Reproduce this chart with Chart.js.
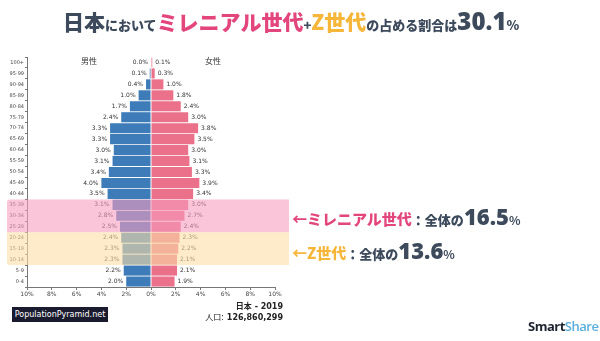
<!DOCTYPE html>
<html>
<head>
<meta charset="utf-8">
<script src="https://cdn.jsdelivr.net/npm/chart.js@4/dist/chart.umd.min.js"></script>
<style>
  body { margin: 0; background: #fff; }
  #wrap { position: relative; width: 600px; height: 341px; overflow: hidden; font-family: "Noto Sans CJK JP", "Noto Sans", sans-serif; }
  #chart { position: absolute; left: 0; top: 0; }
  .abs { position: absolute; white-space: nowrap; }
  #title { left: 63px; top: 6px; font-weight: 900; color: #3d4a5c; font-size: 13px; line-height: 30px; }
  #title .big { font-size: 21px; }
  #title .pink { color: #e2467c; }
  #title .yel { color: #f6b63a; }
  #title .num { font-size: 24px; font-family: "Noto Sans", sans-serif; font-weight: 900; }
  .note { left: 292px; font-weight: 900; color: #3d4a5c; font-size: 13px; line-height: 26px; }
  .note .lead { font-size: 15px; }
  .note .num { font-size: 22px; font-family: "Noto Sans", sans-serif; }
  .note .pct { font-size: 12px; font-weight: 700; }
  .sex { font-size: 8px; color: #333; font-family: "Noto Sans CJK JP", sans-serif; }
  #pp { left: 12px; top: 307px; width: 96px; height: 15px; background: #1b1b2f; color: #fff; font: 8px "DejaVu Sans", sans-serif; line-height: 15px; text-align: center; }
  .meta { right: 317px; font: bold 8px "DejaVu Sans", "Noto Sans CJK JP", sans-serif; color: #222; text-align: right; line-height: 10px; }
  #ss { left: 528px; top: 317px; font: bold 13px "Open Sans", sans-serif; letter-spacing: -0.5px; color: #1e2330; }
  #ss span { color: #5aaedc; font-weight: 600; }
</style>
</head>
<body>
<div id="wrap">
  <canvas id="chart" width="600" height="341"></canvas>
  <div id="title" class="abs"><span class="big">日本</span>において<span class="big pink">ミレニアル世代</span>+<span class="big yel">Z世代</span>の占める割合は<span class="num">30.1</span>%</div>
  <div class="abs note" style="top:203px"><span class="lead" style="color:#e2467c">←ミレニアル世代</span>：全体の<span class="num">16.5</span><span class="pct">%</span></div>
  <div class="abs note" style="top:237px"><span class="lead" style="color:#f6b63a">←Z世代</span>：全体の<span class="num">13.6</span><span class="pct">%</span></div>
  <div class="abs sex" style="left:81px; top:55px">男性</div>
  <div class="abs sex" style="left:205px; top:55px">女性</div>
  <div id="pp" class="abs">PopulationPyramid.net</div>
  <div class="abs meta" style="top:302px">日本 - 2019</div>
  <div class="abs meta" style="top:313px"><span style="font-weight:normal">人口:</span> 126,860,299</div>
  <div id="ss" class="abs">Smart<span>Share</span></div>
</div>
<script>
// Age groups, top to bottom
const ageGroups = ['100+', '95-99', '90-94', '85-89', '80-84', '75-79', '70-74', '65-69', '60-64', '55-59',
    '50-54', '45-49', '40-44', '35-39', '30-34', '25-29', '20-24', '15-19', '10-14', '5-9', '0-4'];
// Share of total population (%)
const male = [0.0, 0.1, 0.4, 1.0, 1.7, 2.4, 3.3, 3.3, 3.0, 3.1, 3.4, 4.0, 3.5, 3.1, 2.8, 2.5, 2.4, 2.3, 2.3, 2.2, 2.0];
const female = [0.1, 0.3, 1.0, 1.8, 2.4, 3.0, 3.8, 3.5, 3.0, 3.1, 3.3, 3.9, 3.4, 3.0, 2.7, 2.4, 2.3, 2.2, 2.1, 2.1, 1.9];
const xTicks = [-10, -8, -6, -4, -2, 0, 2, 4, 6, 8, 10];

// highlighted generations (first and last age group)
const bands = [
    { from: '35-39', to: '25-29', color: 'rgba(246,156,192,0.6)' },
    { from: '20-24', to: '10-14', color: 'rgba(252,222,165,0.6)' }
];

const tickFont = { family: 'DejaVu Sans', size: 6 };

// value labels at the bar ends
const valueLabels = {
    id: 'valueLabels',
    afterDatasetsDraw(chart) {
        const ctx = chart.ctx;
        ctx.save();
        ctx.font = '6px "DejaVu Sans"';
        ctx.fillStyle = '#333';
        ctx.textBaseline = 'middle';
        chart.data.datasets.forEach((ds, di) => {
            chart.getDatasetMeta(di).data.forEach((bar, i) => {
                const v = Math.abs(ds.data[i]).toFixed(1) + '%';
                if (di === 0) {
                    ctx.textAlign = 'right';
                    ctx.fillText(v, bar.x - 3, bar.y);
                } else {
                    ctx.textAlign = 'left';
                    ctx.fillText(v, bar.x + 3, bar.y);
                }
            });
        });
        ctx.restore();
    }
};

// translucent generation bands over everything
const genBands = {
    id: 'genBands',
    afterDraw(chart) {
        const ctx = chart.ctx;
        const ys = chart.scales.y, xs = chart.scales.x;
        const step = ys.getPixelForValue(1) - ys.getPixelForValue(0);
        const left = ys.left;
        const right = xs.right + 14;
        ctx.save();
        bands.forEach((b, k) => {
            const top = ys.getPixelForValue(ageGroups.indexOf(b.from)) - step / 2;
            const bottom = ys.getPixelForValue(ageGroups.indexOf(b.to)) + step / 2;
            ctx.fillStyle = b.color;
            ctx.beginPath();
            ctx.roundRect(left, top, right - left, bottom - top,
                k === 0 ? [3, 0, 0, 0] : [0, 0, 0, 3]);
            ctx.fill();
        });
        ctx.restore();
    }
};

new Chart(document.getElementById('chart'), {
    type: 'bar',
    data: {
        labels: ageGroups,
        datasets: [
            { label: '男性', data: male.map(v => -v), backgroundColor: '#3d7bb9', barPercentage: 0.92, categoryPercentage: 1 },
            { label: '女性', data: female, backgroundColor: '#ea7189', barPercentage: 0.92, categoryPercentage: 1 }
        ]
    },
    options: {
        indexAxis: 'y',
        responsive: false,
        animation: false,
        layout: { padding: { left: 7, right: 325, top: 57, bottom: 42 } },
        plugins: { legend: { display: false }, tooltip: { enabled: false } },
        scales: {
            x: {
                stacked: true,
                min: -10, max: 10,
                afterBuildTicks: s => { s.ticks = xTicks.map(v => ({ value: v })); },
                afterFit: s => { s.height = 12; },
                grid: { drawOnChartArea: false, drawTicks: true, tickLength: 3, color: '#777' },
                border: { color: '#777' },
                ticks: { font: tickFont, color: '#444', padding: 1, maxRotation: 0, callback: v => Math.abs(v) + '%' }
            },
            y: {
                stacked: true,
                offset: true,
                afterFit: s => { s.width = 20; },
                grid: { drawOnChartArea: false, drawTicks: true, tickLength: 2, color: '#777' },
                border: { color: '#777' },
                ticks: { font: { family: 'DejaVu Sans', size: 5 }, color: '#444', padding: 1 }
            }
        }
    },
    plugins: [valueLabels, genBands]
});
</script>
</body>
</html>
